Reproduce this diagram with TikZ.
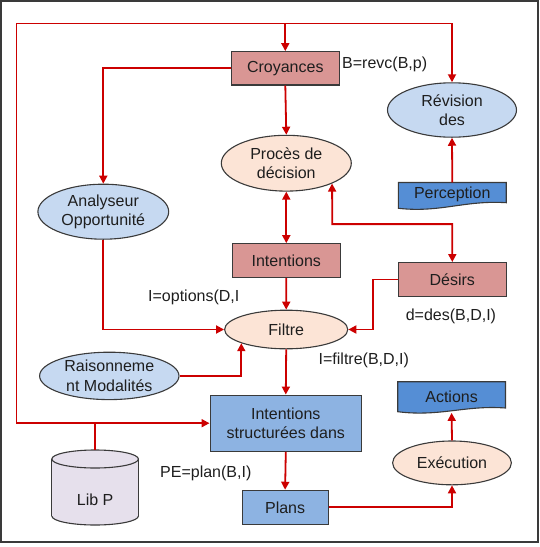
\documentclass[tikz,border=0pt]{standalone}
\usepackage{fontspec}
\setmainfont{Liberation Sans}
\usetikzlibrary{shapes.geometric,arrows.meta}
\definecolor{redl}{HTML}{CC0000}
\definecolor{bord}{HTML}{3A3A3A}
\definecolor{txt}{HTML}{1E1E1E}
\definecolor{pinkb}{HTML}{D99694}
\definecolor{lblue}{HTML}{C6D9F1}
\definecolor{peach}{HTML}{FCE4D6}
\definecolor{mblue}{HTML}{558ED5}
\definecolor{sblue}{HTML}{8DB3E2}
\definecolor{lav}{HTML}{E6E0EC}
\begin{document}
\begin{tikzpicture}[x=1pt,y=-1pt,
  every node/.style={font=\fontsize{16}{19.6}\selectfont, text=txt},
  box/.style={draw=bord, line width=1.1pt, rectangle, inner sep=0pt, align=center},
  ell/.style={draw=bord, line width=1.1pt, ellipse, inner sep=0pt, align=center},
  docst/.style={draw=bord, line width=1.1pt},
  arr/.style={draw=redl, line width=1.8pt, -{Triangle[length=8pt,width=8pt]}},
  dbl/.style={draw=redl, line width=1.8pt, {Triangle[length=8pt,width=8pt]}-{Triangle[length=8pt,width=8pt]}},
  ln/.style={draw=redl, line width=1.8pt},
  lbl/.style={anchor=west, inner sep=0pt}]
\useasboundingbox (0,0) rectangle (540,547);
\draw[draw=bord, line width=1.6pt] (0.8,0.8) rectangle (538,542);

% document shapes
\filldraw[docst, fill=mblue] (398.4,182.5) -- (506.2,182.5) -- (506.2,202.7)
  .. controls (465,200) and (440,213) .. (398.4,208.3) -- cycle;
\filldraw[docst, fill=mblue] (397.7,381.7) -- (505.5,381.7) -- (505.5,408)
  .. controls (465,405) and (440,417) .. (397.7,411.7) -- cycle;

% cylinder
\filldraw[docst, fill=lav] (95.1,516) ellipse (43.3pt and 9pt);
\fill[lav] (51.8,459) rectangle (138.4,516);
\draw[docst] (51.8,459) -- (51.8,516);
\draw[docst] (138.4,459) -- (138.4,516);
\filldraw[docst, fill=lav] (95.1,459) ellipse (43.3pt and 9pt);

% nodes
\node[box, fill=pinkb, minimum width=108pt, minimum height=33.3pt] (croy) at (285.3,68.3) {Croyances};
\node[ell, fill=lblue, minimum width=129pt, minimum height=54.4pt] (rev) at (452,110) {Révision\\des};
\node[ell, fill=peach, minimum width=130pt, minimum height=55.8pt] (proc) at (286.3,163.2) {Procès de\\décision};
\node[ell, fill=lblue, minimum width=130.8pt, minimum height=55pt] (anal) at (103.3,211.7) {Analyseur\\Opportunité};
\node[inner sep=0pt, minimum width=107.8pt, minimum height=24pt] (perc) at (452.3,194.5) {Perception};
\node[box, fill=pinkb, minimum width=108pt, minimum height=33.8pt] (intent) at (286.3,260.6) {Intentions};
\node[box, fill=pinkb, minimum width=108pt, minimum height=33.8pt] (desirs) at (452.3,279.5) {Désirs};
\node[ell, fill=peach, minimum width=123.2pt, minimum height=38.6pt] (filtre) at (286.2,329.5) {Filtre};
\node[ell, fill=lblue, minimum width=139.4pt, minimum height=47.4pt] (rais) at (109.3,375.9) {Raisonneme\\nt Modalités};
\node[box, fill=sblue, minimum width=151.5pt, minimum height=56.2pt] (intstr) at (285.8,423.2) {Intentions\\structurées dans};
\node[box, fill=sblue, minimum width=86pt, minimum height=34pt] (plans) at (285.1,507.3) {Plans};
\node[ell, fill=peach, minimum width=118.8pt, minimum height=43.8pt] (exec) at (452,462.9) {Exécution};
\node[inner sep=0pt, minimum width=107.8pt, minimum height=31pt] (actions) at (451.6,397.2) {Actions};
\node[inner sep=0pt] (libp) at (95.1,500) {Lib P};
\coordinate (libtop) at (95.1,450);

% labels
\node[lbl] (l1) at (342,64.4) {B=revc(B,p)};
\node[lbl] (l2) at (148,297) {I=options(D,I};
\node[lbl] (l3) at (405.6,316) {d=des(B,D,I)};
\node[lbl] (l4) at (318.5,360.8) {I=filtre(B,D,I)};
\node[lbl] (l5) at (160,473.6) {PE=plan(B,I)};

% connectors
\coordinate (tl) at (16.5,23.4);
\coordinate (dj) at (332.3,224.1);
\coordinate (dw) at (372.6,279.5);
\draw[arr] (tl) -| (rev.north);
\draw[arr] (croy.north |- tl) -- (croy.north);
\draw[arr] (tl) |- (intstr.west);
\draw[ln] (libtop) -- (libtop |- intstr.west);
\draw[arr] (croy.west) -| (anal.north);
\draw[arr] (croy.south) -- (proc.north);
\draw[arr] (perc.north) -- (rev.south);
\draw[dbl] (proc.south) -- (intent.north);
\draw[dbl] (desirs.north) |- (dj) -- (proc.336.7);
\draw[arr] (intent.south) -- (filtre.north);
\draw[arr] (anal.south) |- (filtre.west);
\draw[arr] (desirs.west) -- (dw) |- (filtre.east);
\draw[arr] (rais.east) -| (filtre.197.5);
\draw[arr] (filtre.south) -- (intstr.north);
\draw[arr] (intstr.south) -- (plans.north);
\draw[arr] (plans.east) -| (exec.south);
\draw[arr] (exec.north) -- (actions.south);
\end{tikzpicture}
\end{document}
